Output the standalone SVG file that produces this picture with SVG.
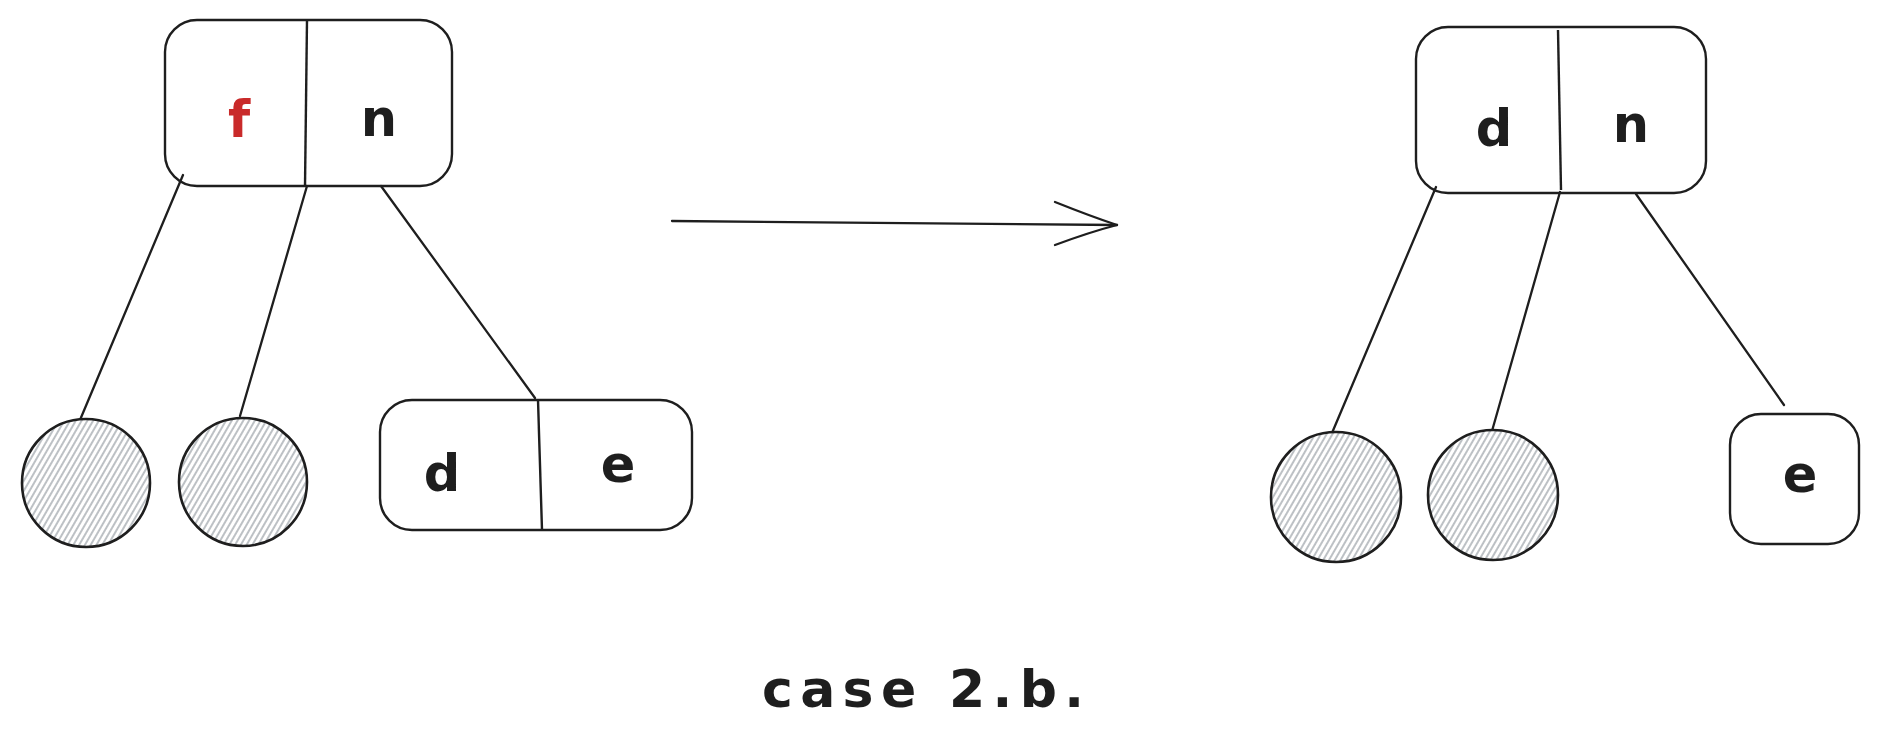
<svg xmlns="http://www.w3.org/2000/svg" width="1877" height="744" viewBox="0 0 1877 744">
<style>
.box{fill:none;stroke:#1e1e1e;stroke-width:2.4}
.div{stroke:#1e1e1e;stroke-width:2.4;fill:none}
.circ{fill:url(#hatch);stroke:#1e1e1e;stroke-width:2.6}
.lbl{font-family:"DejaVu Sans","Liberation Sans",sans-serif;font-weight:bold;font-size:51px;fill:#1e1e1e;text-anchor:middle}
.edge{stroke:#1e1e1e;stroke-width:2.3;fill:none;stroke-linecap:round}
</style>
<defs>
<pattern id="hatch" width="5" height="5" patternUnits="userSpaceOnUse" patternTransform="rotate(30)">
<rect width="5" height="5" fill="#ffffff"/>
<line x1="1" y1="0" x2="1" y2="5" stroke="#868e96" stroke-width="1.1"/>
</pattern>
</defs>
<rect width="1877" height="744" fill="#ffffff"/>
<g id="connectors">
<line class="edge" x1="183" y1="175" x2="80" y2="420"/>
<line class="edge" x1="307" y1="186" x2="240" y2="416"/>
<line class="edge" x1="381" y1="186" x2="535" y2="398"/>
<line class="edge" x1="1436" y1="187" x2="1332" y2="433"/>
<line class="edge" x1="1560" y1="192" x2="1492" y2="431"/>
<line class="edge" x1="1636" y1="194" x2="1784" y2="405"/>
<g id="arrow">
<path class="edge" d="M672 221 L1117 225"/>
<path class="edge" d="M1055 202 Q1090 216 1117 225"/>
<path class="edge" d="M1055 245 Q1090 232 1117 225"/>
</g>
</g>
<g id="node-fn">
<rect class="box" x="165" y="20" width="287" height="166" rx="32"/>
<line class="div" x1="307" y1="20" x2="305" y2="186"/>
<text class="lbl" x="239" y="137" style="fill:#c92a2a">f</text>
<text class="lbl" x="379" y="136">n</text>
</g>
<g id="leaf-l1"><circle class="circ" cx="86" cy="483" r="64"/></g>
<g id="leaf-l2"><circle class="circ" cx="243" cy="482" r="64"/></g>
<g id="node-de">
<rect class="box" x="380" y="400" width="312" height="130" rx="32"/>
<line class="div" x1="538" y1="400" x2="542" y2="530"/>
<text class="lbl" x="442" y="491">d</text>
<text class="lbl" x="618" y="482">e</text>
</g>
<g id="node-dn">
<rect class="box" x="1416" y="27" width="290" height="166" rx="32"/>
<line class="div" x1="1558" y1="30" x2="1561" y2="190"/>
<text class="lbl" x="1494" y="146">d</text>
<text class="lbl" x="1631" y="142">n</text>
</g>
<g id="leaf-r1"><circle class="circ" cx="1336" cy="497" r="65"/></g>
<g id="leaf-r2"><circle class="circ" cx="1493" cy="495" r="65"/></g>
<g id="node-e">
<rect class="box" x="1730" y="414" width="129" height="130" rx="31"/>
<text class="lbl" x="1800" y="492">e</text>
</g>
<text x="762" y="707" textLength="322" lengthAdjust="spacing" style="font-family:'DejaVu Sans','Liberation Sans',sans-serif;font-weight:bold;font-size:52px;fill:#1e1e1e">case 2.b.</text>
</svg>
